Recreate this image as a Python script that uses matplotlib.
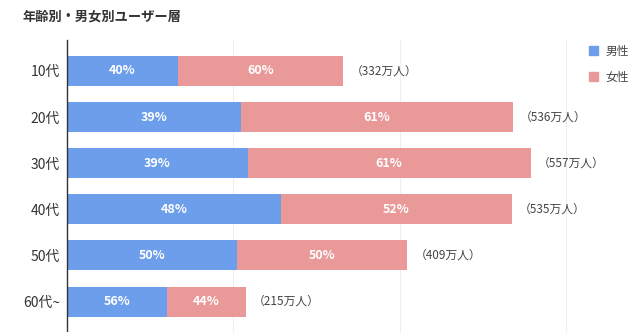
import matplotlib
matplotlib.use("Agg")
import matplotlib.pyplot as plt
from matplotlib.patches import Patch

plt.rcParams['font.family'] = ['Noto Sans CJK JP', 'DejaVu Sans']

# data
ages = ["10代", "20代", "30代", "40代", "50代", "60代~"]
male_pct = [40, 39, 39, 48, 50, 56]
female_pct = [60, 61, 61, 52, 50, 44]
totals = [332, 536, 557, 535, 409, 215]   # 万人

BLUE = "#6d9eeb"
PINK = "#ea9999"

fig = plt.figure(figsize=(6.4, 3.32), dpi=100)
ax = fig.add_axes([67 / 640, 0.0, 516 / 640, 292 / 332])

y = list(range(len(ages)))
male_w = [t * m / 100 for t, m in zip(totals, male_pct)]
female_w = [t * f / 100 for t, f in zip(totals, female_pct)]

ax.barh(y, male_w, height=0.65, color=BLUE, label="男性", zorder=2)
ax.barh(y, female_w, left=male_w, height=0.65, color=PINK, label="女性", zorder=2)

for i in y:
    ax.text(male_w[i] / 2, i, f"{male_pct[i]}%", ha="center", va="center",
            color="white", fontsize=9, fontweight="bold", zorder=3)
    ax.text(male_w[i] + female_w[i] / 2, i, f"{female_pct[i]}%", ha="center",
            va="center", color="white", fontsize=9, fontweight="bold", zorder=3)
    ax.annotate(f"（{totals[i]}万人）", xy=(totals[i], i), xytext=(5, 0),
                textcoords="offset points", ha="left", va="center",
                fontsize=8.5, color="#444444")

ax.set_xlim(0, 620)
ax.set_ylim(5.66, -0.67)
ax.set_xticks([200, 400, 600])
ax.xaxis.grid(True, color="#eeeeee", linewidth=0.8, zorder=0)
ax.tick_params(axis="x", length=0, labelbottom=False)
ax.set_yticks(y)
ax.set_yticklabels(ages, fontsize=10, color="#333333")
ax.tick_params(axis="y", length=0, pad=5)
for s in ["top", "right", "bottom"]:
    ax.spines[s].set_visible(False)
ax.spines["left"].set_color("#333333")
ax.spines["left"].set_linewidth(1)

fig.text(23 / 640, 1 - 17 / 332, "年齢別・男女別ユーザー層", fontsize=9.5,
         fontweight="bold", color="#333333", ha="left", va="center")

handles = [Patch(color=BLUE), Patch(color=PINK)]
fig.legend(handles, ["男性", "女性"], loc="upper left",
           bbox_to_anchor=(578 / 640, 1 - 34 / 332), frameon=False,
           fontsize=8.5, handlelength=0.8, handleheight=0.8, handletextpad=0.6,
           labelspacing=1.1, labelcolor="#444444")

fig.savefig("out.png", dpi=100, facecolor="white")
